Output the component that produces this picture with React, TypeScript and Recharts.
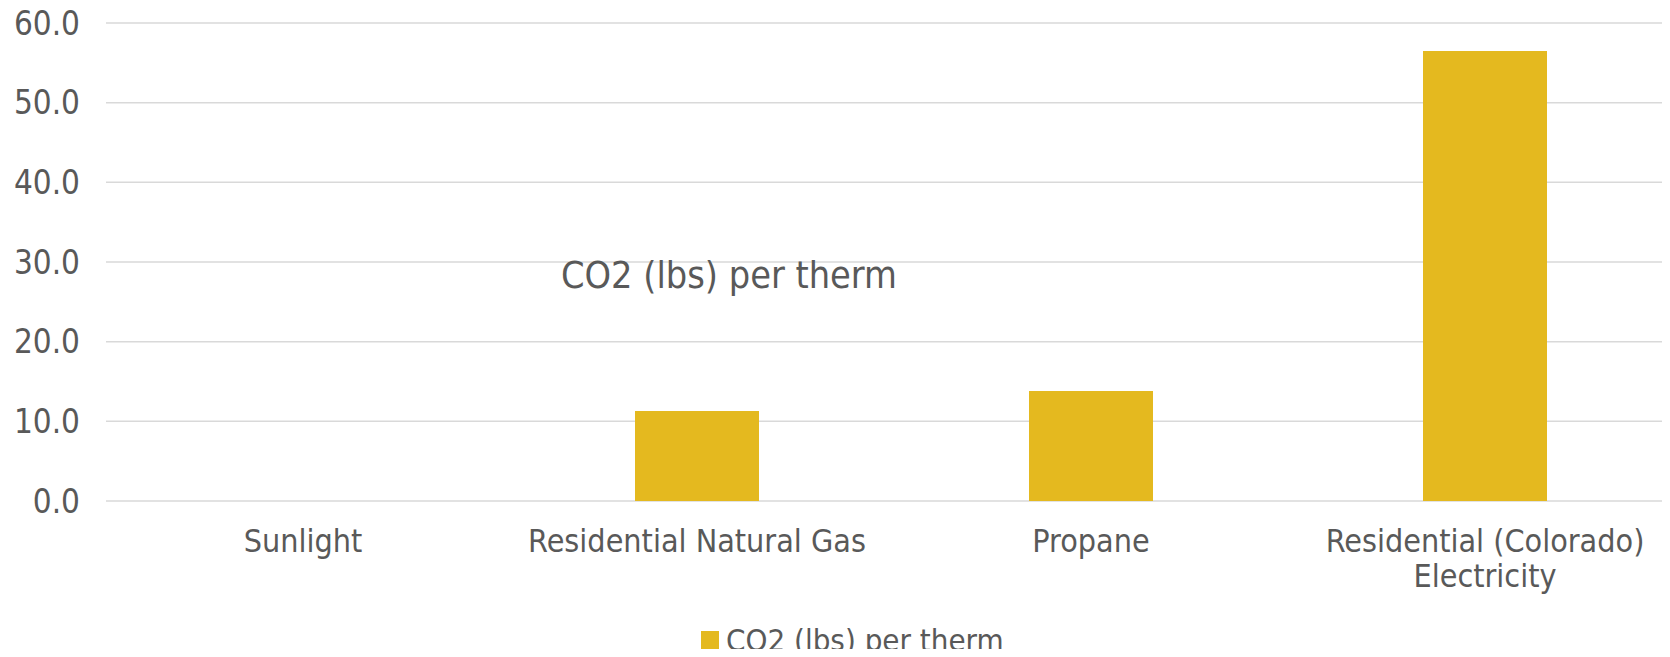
import { BarChart, Bar, XAxis, YAxis, CartesianGrid, Legend } from 'recharts';

const categories = ['Sunlight', 'Residential Natural Gas', 'Propane', 'Residential (Colorado)\nElectricity'];
const co2PerTherm = [0, 11.3, 13.8, 56.5];
const yTicks = [0, 10, 20, 30, 40, 50, 60];

const seriesName = 'CO2 (lbs) per therm';
const data = categories.map((name, i) => ({ name, co2: co2PerTherm[i] }));

const FONT = '"DejaVu Sans Condensed", "DejaVu Sans", sans-serif';
const TEXT = '#595959';
const GOLD = '#E4B91F';

// category labels wrap onto a second line where the name has a break
const CategoryTick = (props: any) => {
    const { x, y, payload } = props;
    const lines = String(payload.value).split('\n');
    return (
        <text x={x} y={y + 51} textAnchor="middle" fill={TEXT} fontSize={32} fontFamily={FONT}>
            {lines.map((line, i) => (
                <tspan key={i} x={x} dy={i === 0 ? 0 : 35}>{line}</tspan>
            ))}
        </text>
    );
};

const LegendBox = () => (
    <div style={{ height: 40, display: 'flex', alignItems: 'center', fontFamily: FONT, fontSize: 31, color: TEXT }}>
        <span style={{ width: 18, height: 18, background: GOLD, display: 'inline-block', marginRight: 7 }} />
        {seriesName}
    </div>
);

export default function App() {
    return (
        <div style={{ margin: -8, width: 1670, height: 657, overflow: 'hidden', position: 'relative', background: '#fff' }}>
            <BarChart width={1682} height={657} data={data} margin={{ top: 23, right: 0, left: 0, bottom: 0 }}>
                <CartesianGrid vertical={false} stroke="#D9D9D9" strokeWidth={1.5} />
                <XAxis
                    dataKey="name"
                    axisLine={false}
                    tickLine={false}
                    tickSize={0}
                    tickMargin={0}
                    height={116}
                    interval={0}
                    tick={<CategoryTick />}
                />
                <YAxis
                    domain={[0, 60]}
                    ticks={yTicks}
                    width={106}
                    axisLine={false}
                    tickLine={false}
                    tickSize={0}
                    tickMargin={26}
                    tickFormatter={(v: number) => v.toFixed(1)}
                    tick={{ fill: TEXT, fontSize: 33, fontFamily: FONT }}
                />
                <Legend
                    verticalAlign="bottom"
                    content={<LegendBox />}
                    wrapperStyle={{ left: 701, width: 340, bottom: -3 }}
                />
                <Bar dataKey="co2" name={seriesName} fill={GOLD} barSize={124} isAnimationActive={false} />
            </BarChart>
            <div
                style={{
                    position: 'absolute',
                    left: 561,
                    top: 253,
                    fontFamily: FONT,
                    fontSize: 37.5,
                    color: TEXT,
                    whiteSpace: 'nowrap',
                }}
            >
                {seriesName}
            </div>
        </div>
    );
}
